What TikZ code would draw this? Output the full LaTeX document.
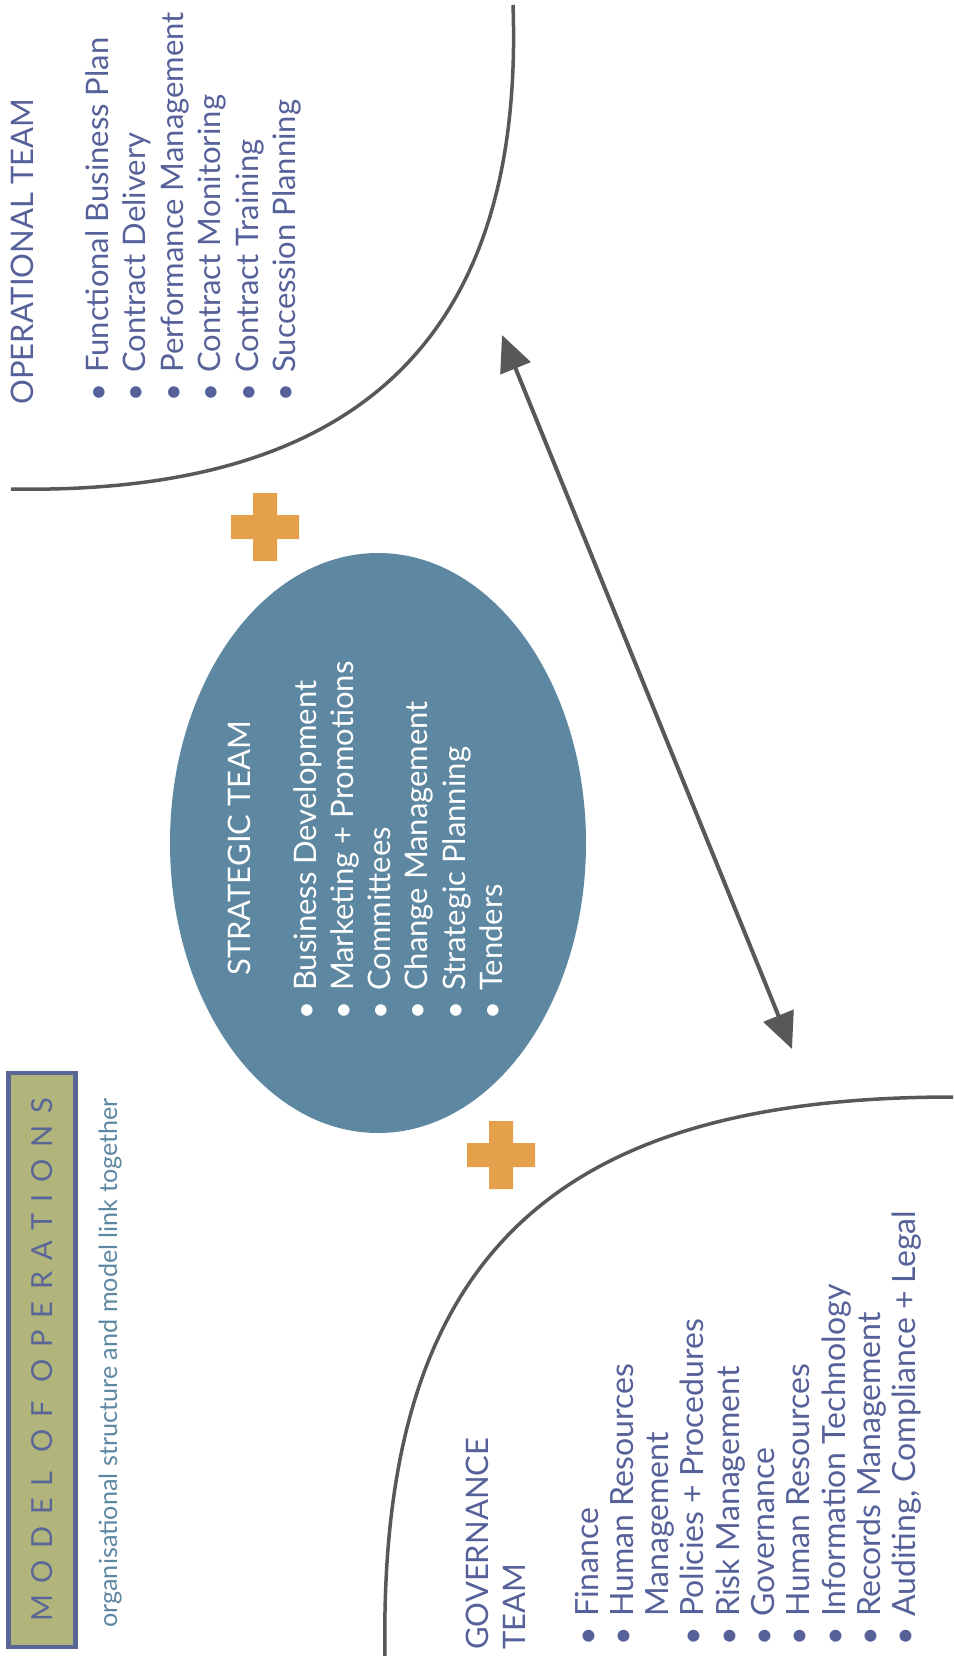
\documentclass[tikz,border=0pt]{standalone}
\usepackage{fontspec}
\setmainfont{Lato}
\usetikzlibrary{arrows.meta}
\definecolor{teamblue}{HTML}{56619A}
\definecolor{titleblue}{HTML}{5A6698}
\definecolor{olive}{HTML}{B1B57C}
\definecolor{steel}{HTML}{5E87A1}
\definecolor{plusorange}{HTML}{E5A04C}
\definecolor{linegrey}{HTML}{58585A}
\newcommand{\bul}{\makebox[29pt][l]{\textbullet}}
\newcommand{\nobul}{\makebox[29pt][l]{}}
\tikzset{teamarc/.style={draw=linegrey,line width=3.5pt}}
\tikzset{twoway/.style={{Triangle[length=36pt,width=32pt]}-{Triangle[length=36pt,width=32pt]},draw=linegrey,line width=4pt}}
\tikzset{plusmark/.style={fill=plusorange}}
\tikzset{rottext/.style={rotate=90,anchor=base west,inner sep=0pt}}
\tikzset{teamtext/.style={rottext,text=teamblue,font=\fontsize{31}{37.5}\selectfont}}
\tikzset{strattext/.style={rottext,text=white,font=\fontsize{31}{37.3}\selectfont}}
\tikzset{titlebox/.style={rotate=90,draw=titleblue,fill=olive,line width=4.5pt,inner sep=0pt,minimum width=574pt,minimum height=67pt,text=titleblue,font=\fontsize{29}{32}\selectfont\addfontfeature{LetterSpace=40}}}

\begin{document}
\begin{tikzpicture}[x=1pt,y=-1pt]
\useasboundingbox (0,0) rectangle (953,1656);
% title
\node (title) [titlebox] at (42,1360) {MODEL OF OPERATIONS\hspace{14pt}};
\node (subtitle) [rottext,text=steel,font=\fontsize{25.2}{30}\selectfont] at (117,1628) {organisational structure and model link together};
% arcs
\draw[teamarc] (11,489) .. controls (345,495) and (525,350) .. (513,5);
\draw[teamarc] (385,1656) .. controls (378,1250) and (560,1097) .. (953,1097);
% operational team
\node (ophead) [teamtext] at (33,405) {OPERATIONAL TEAM};
\node (oplist) [teamtext] at (108,402) {\begin{tabular}[t]{@{}l@{}}
\bul Functional Business Plan\\
\bul Contract Delivery\\
\bul Performance Management\\
\bul Contract Monitoring\\
\bul Contract Training\\
\bul Succession Planning
\end{tabular}};
% strategic team
\fill[steel] (378,843) ellipse [x radius=208,y radius=290];
\node (strathead) [strattext] at (250,976) {STRATEGIC TEAM};
\node (stratlist) [strattext] at (316,1020) {\begin{tabular}[t]{@{}l@{}}
\bul Business Development\\
\bul Marketing + Promotions\\
\bul Committees\\
\bul Change Management\\
\bul Strategic Planning\\
\bul Tenders
\end{tabular}};
% governance team
\node (govhead) [teamtext] at (488,1650) {\begin{tabular}[t]{@{}l@{}}GOVERNANCE\\TEAM\end{tabular}};
\node (govlist) [teamtext,font=\fontsize{32}{35.3}\selectfont] at (598,1646) {\begin{tabular}[t]{@{}l@{}}
\bul Finance\\
\bul Human Resources\\
\nobul Management\\
\bul Policies + Procedures\\
\bul Risk Management\\
\bul Governance\\
\bul Human Resources\\
\bul Information Technology\\
\bul Records Management\\
\bul Auditing, Compliance + Legal
\end{tabular}};
% plus signs
\fill[plusmark,shift={(265,527)}] (-34,-12) rectangle (34,12) (-12,-34) rectangle (12,34);
\fill[plusmark,shift={(501,1155)}] (-34,-12) rectangle (34,12) (-12,-34) rectangle (12,34);
% link between teams
\coordinate (linktop) at (502,335);
\coordinate (linkbot) at (792,1049);
\draw[twoway] (linktop) -- (linkbot);
\end{tikzpicture}
\end{document}
